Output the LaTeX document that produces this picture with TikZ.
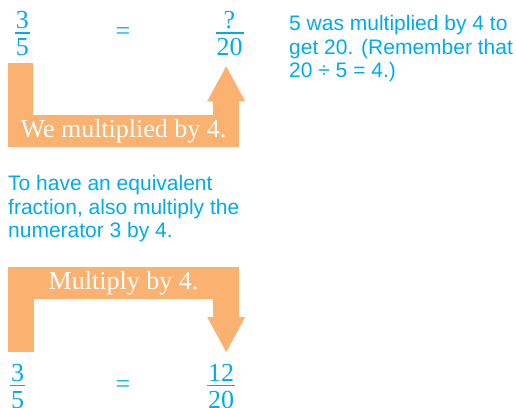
\documentclass[tikz,border=0pt]{standalone}
\usepackage{fontspec}
\setmainfont{Liberation Serif}
\setsansfont{Liberation Sans}
\usepackage{xcolor}
\usepackage{tikz}
\usetikzlibrary{positioning,arrows.meta}

\definecolor{bandorange}{RGB}{251,178,112}
\definecolor{inkblue}{RGB}{0,171,236}

\newcommand{\pilefrac}[2]{{\renewcommand{\arraystretch}{0}\setlength{\arrayrulewidth}{1.8pt}%
  \begin{tabular}[t]{@{\kern1pt}c@{\kern1pt}}\rule[-3pt]{0pt}{3pt}#1\\\hline\rule{0pt}{22pt}#2\end{tabular}}}

\begin{document}
\begin{tikzpicture}[
    x=1pt, y=1pt,
    >={Triangle[length=35pt, width=38pt, line width=0pt 0 0]},
    frac/.style={inner sep=0pt, anchor=base, text=inkblue, font=\fontsize{26}{30}\selectfont},
    band/.style={rectangle, fill=bandorange, text=white, minimum width=231pt, minimum height=32pt, inner sep=0pt, font=\fontsize{26}{30}\selectfont},
    bar/.style={draw=bandorange, line width=25.5pt},
    note/.style={inner sep=0pt, anchor=base west, align=left, text=inkblue, font=\sffamily\fontsize{21}{23.8}\selectfont}
]
\useasboundingbox (0,0) rectangle (516,407);

% Row 1: 3/5 = ?/20
\node[frac] (lhs) at (22.5,378) {\pilefrac{3}{5}};
\node[frac] (eq) at (123,367) {=};
\node[frac] (rhs) at (229.5,378) {\pilefrac{?}{20}};
\node[note] (hint) at (289,329) {5 was multiplied by 4 to\\get 20. (Remember that\\20 ÷ 5 = 4.)};

% Band under row 1
\node[band] (topband) at (123.5,276) {We multiplied by 4.};
\draw[bar, shorten >=7pt] ([xshift=12.75pt, yshift=-1pt]topband.north west) -- ([xshift=12.75pt]topband.north west |- lhs.south);
\draw[bar, ->, shorten >=10pt] ([xshift=-13pt, yshift=-1pt]topband.north east) -- ([xshift=-13pt]topband.north east |- rhs.south);

% Middle text
\node[note] (advice) at (8,169) {To have an equivalent\\fraction, also multiply the\\numerator 3 by 4.};

% Band over row 2
\node[band] (lowband) at (123.5,124) {Multiply by 4.};

% Row 2: 3/5 = 12/20
\node[frac] (lhslow) at (17.5,25.5) {\pilefrac{3}{5}};
\node[frac] (eqlow) at (123,14.5) {=};
\node[frac] (rhslow) at (221,25.5) {\pilefrac{12}{20}};

\draw[bar, shorten >=12pt] ([xshift=13pt, yshift=1pt]lowband.south west) -- ([xshift=13pt]lowband.south west |- lhslow.north);
\draw[bar, ->, shorten >=12pt] ([xshift=-13pt, yshift=1pt]lowband.south east) -- ([xshift=-13pt]lowband.south east |- rhslow.north);

\end{tikzpicture}
\end{document}
